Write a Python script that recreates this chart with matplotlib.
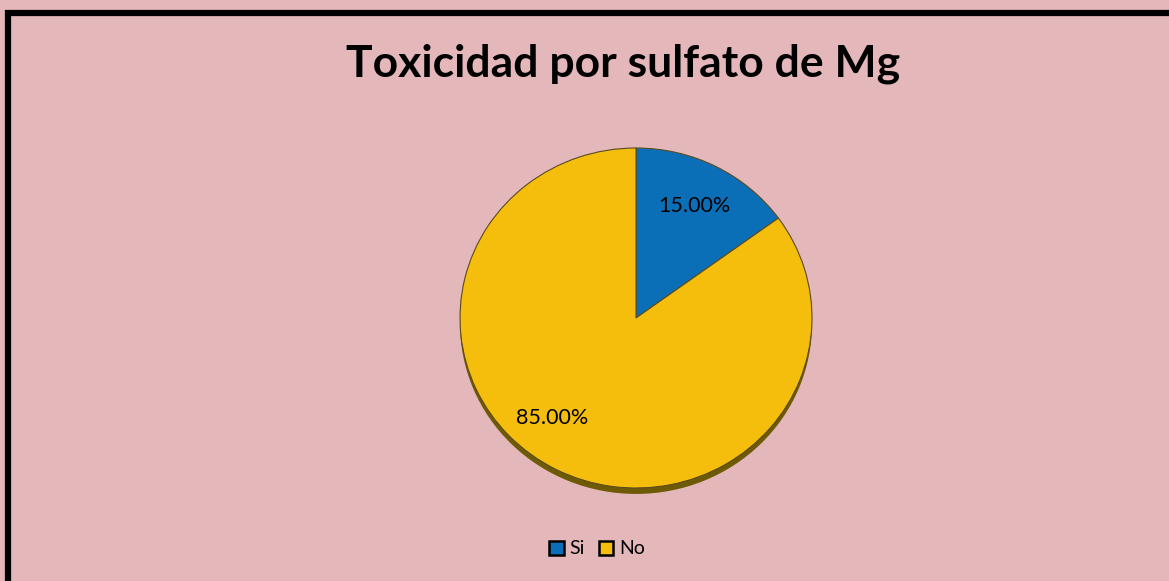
import matplotlib.pyplot as plt
from matplotlib.patches import Rectangle

# data
labels = ['Si', 'No']
values = [15.0, 85.0]
colors = ['#0B6FB8', '#F6BE0C']
title = 'Toxicidad por sulfato de Mg'

W, H = 1169, 581
fig = plt.figure(figsize=(W / 100, H / 100), dpi=100)
fig.patch.set_facecolor('#E4B8BA')

# black border, cut off on right and bottom like the original
fig.patches.append(Rectangle((8 / W, -0.05), 1.1, (H - 13) / H + 0.05,
                             transform=fig.transFigure, fill=False,
                             edgecolor='black', linewidth=4.5))

fig.text(623 / W, 1 - 64 / H, title, ha='center', va='center',
         fontsize=32, fontweight='bold', family='Lato')

# pie axes: a bit squashed to look like the tilted 3d pie
cx, cy, rx, ry = 636, 318, 176, 170
ax = fig.add_axes([(cx - rx) / W, 1 - (cy + ry) / H, 2 * rx / W, 2 * ry / H])
ax.axis('off')

# shadow/side of the pie
ax.pie([1], colors=['#6E5A05'], center=(0, -0.035), radius=1.0,
       wedgeprops=dict(linewidth=0))
wedges, _ = ax.pie(values, colors=colors, startangle=90, counterclock=False,
                   wedgeprops=dict(edgecolor='#5A4A20', linewidth=0.8))
ax.set_aspect('auto')
ax.set_xlim(-1, 1)
ax.set_ylim(-1, 1)

# data labels
fig.text(694 / W, 1 - 206 / H, '%.2f%%' % values[0], ha='center', va='center',
         fontsize=15.5, family='Lato')
fig.text(552 / W, 1 - 418 / H, '%.2f%%' % values[1], ha='center', va='center',
         fontsize=15.5, family='Lato')

leg = fig.legend(wedges, labels, loc='center', bbox_to_anchor=(597 / W, 1 - 549 / H),
                 ncol=2, frameon=False, handlelength=0.75, handleheight=0.75,
                 handletextpad=0.3, columnspacing=0.7, prop={'family': 'Lato', 'size': 14})
for h in leg.legend_handles:
    h.set_edgecolor('black')
    h.set_linewidth(1.8)

fig.savefig('out.png', dpi=100, facecolor=fig.get_facecolor())
